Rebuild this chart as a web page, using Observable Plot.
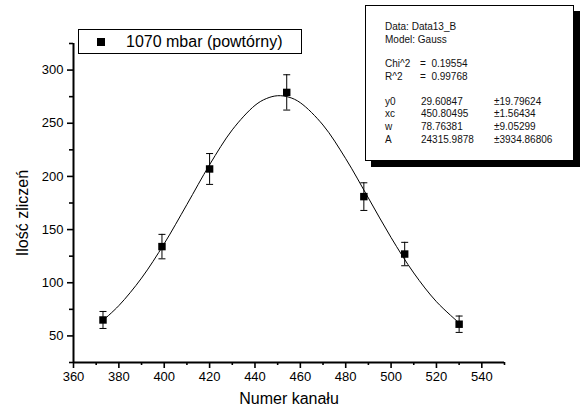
<!DOCTYPE html>
<html>
<head>
<meta charset="utf-8">
<script src="https://cdn.jsdelivr.net/npm/d3@7"></script>
<script src="https://cdn.jsdelivr.net/npm/@observablehq/plot@0.6"></script>
<style>
  html, body { margin: 0; padding: 0; background: #fff; }
  #wrap { position: relative; width: 583px; height: 412px; font-family: "Liberation Sans", Arial, sans-serif; }
  #legend { position: absolute; left: 78px; top: 29px; width: 222px; height: 23px; border: 1px solid #000; background: #fff; }
  #legend .sq { position: absolute; left: 18px; top: 8px; width: 8px; height: 8px; background: #000; }
  #legend .txt { position: absolute; left: 47px; top: 2px; font-size: 16px; line-height: 19px; color: #000; white-space: pre; }
  #stats { position: absolute; left: 365px; top: 5px; width: 207px; height: 154px; border: 1px solid #000; background: #fff; box-shadow: 6px 6px 0 #000; }
  #stats div { position: absolute; font-size: 10px; line-height: 12px; color: #111; white-space: pre; }
</style>
</head>
<body>
<div id="wrap"></div>
<script>
// Measured points
const channel = [373, 399, 420, 454, 488, 506, 530];
const counts  = [65, 134, 207, 279, 181, 127, 61];
const errors  = [8, 11.5, 14.5, 16.6, 13, 11, 7.7];

// Fitted Gauss curve
const curveX = [373, 380, 390, 400, 410, 420, 430, 440, 445, 450, 455, 460, 470, 480, 490, 500, 510, 520, 530];
const curveY = [64.6, 78.5, 104.4, 136.8, 173.6, 211.0, 243.8, 266.8, 273.2, 275.9, 274.5, 269.3, 248.3, 216.7, 179.7, 142.5, 109.2, 82.2, 62.2];

// Axis ticks
const xMajor = [360, 380, 400, 420, 440, 460, 480, 500, 520, 540];
const xMinor = [370, 390, 410, 430, 450, 470, 490, 510, 530, 550];
const yMajor = [50, 100, 150, 200, 250, 300];
const yMinor = [25, 75, 125, 175, 225, 275, 325];

const legendLabel = "1070 mbar (powtórny)";
const xLabel = "Numer kanału";
const yLabel = "Ilość zliczeń";

// Fit report rows
const fitHeader = ["Data: Data13_B", "Model: Gauss"];
const fitStats = [["Chi^2", "=  0.19554"], ["R^2", "=  0.99768"]];
const fitParams = [
  ["y0", "29.60847", "±19.79624"],
  ["xc", "450.80495", "±1.56434"],
  ["w", "78.76381", "±9.05299"],
  ["A", "24315.9878", "±3934.86806"]
];

const points = channel.map((x, i) => ({x, y: counts[i], lo: counts[i] - errors[i], hi: counts[i] + errors[i]}));
const curve = curveX.map((x, i) => ({x, y: curveY[i]}));

const capSymbol = {draw(ctx) { ctx.moveTo(-3.5, 0); ctx.lineTo(3.5, 0); }};

const chart = Plot.plot({
  width: 583,
  height: 412,
  marginLeft: 73,
  marginRight: 79,
  marginTop: 43,
  marginBottom: 50,
  style: {fontFamily: '"Liberation Sans", Arial, sans-serif', color: "#000", background: "#fff"},
  x: {domain: [360, 550]},
  y: {domain: [25, 325]},
  marks: [
    Plot.axisX({ticks: xMajor, tickSize: 6, tickPadding: 3, fontSize: 13, strokeWidth: 1.6, label: null}),
    Plot.axisX({ticks: xMinor, tickSize: 3, tickFormat: () => "", strokeWidth: 1.6, label: null}),
    Plot.axisY({ticks: yMajor, tickSize: 6, tickPadding: 4, fontSize: 13, strokeWidth: 1.6, label: null}),
    Plot.axisY({ticks: yMinor, tickSize: 4, tickFormat: () => "", strokeWidth: 1.6, label: null}),
    Plot.ruleX([360], {strokeWidth: 2}),
    Plot.ruleY([25], {strokeWidth: 2}),
    Plot.line(curve, {x: "x", y: "y", curve: "catmull-rom", strokeWidth: 1, stroke: "#000"}),
    Plot.ruleX(points, {x: "x", y1: "lo", y2: "hi", strokeWidth: 1, stroke: "#000"}),
    Plot.dot(points, {x: "x", y: "lo", symbol: capSymbol, stroke: "#000", strokeWidth: 1, fill: "none"}),
    Plot.dot(points, {x: "x", y: "hi", symbol: capSymbol, stroke: "#000", strokeWidth: 1, fill: "none"}),
    Plot.dot(points, {x: "x", y: "y", symbol: "square", r: 4.2, fill: "#000", stroke: null}),
    Plot.text([xLabel], {frameAnchor: "bottom", dy: 41, fontSize: 16, fill: "#000"}),
    Plot.text([yLabel], {frameAnchor: "left", textAnchor: "middle", dx: -51, dy: 10, rotate: -90, fontSize: 16, fill: "#000"})
  ]
});

const wrap = document.getElementById("wrap");
wrap.appendChild(chart);

// Legend box
const legend = document.createElement("div");
legend.id = "legend";
legend.innerHTML = `<div class="sq"></div><div class="txt"></div>`;
legend.querySelector(".txt").textContent = legendLabel;
wrap.appendChild(legend);

// Fit report box
const stats = document.createElement("div");
stats.id = "stats";
const boxLeft = 365, boxTop = 5;
function addText(txt, x, yc) {
  const d = document.createElement("div");
  d.textContent = txt;
  d.style.left = (x - boxLeft - 1) + "px";
  d.style.top = (yc - boxTop - 1 - 6) + "px";
  stats.appendChild(d);
}
const headerRows = [27, 40];
fitHeader.forEach((t, i) => addText(t, 385, headerRows[i]));
const statRows = [64, 77];
fitStats.forEach((r, i) => { addText(r[0], 385, statRows[i]); addText(r[1], 420, statRows[i]); });
const paramRows = [102, 114, 127, 140];
fitParams.forEach((r, i) => { addText(r[0], 385, paramRows[i]); addText(r[1], 421, paramRows[i]); addText(r[2], 494, paramRows[i]); });
wrap.appendChild(stats);
</script>
</body>
</html>
